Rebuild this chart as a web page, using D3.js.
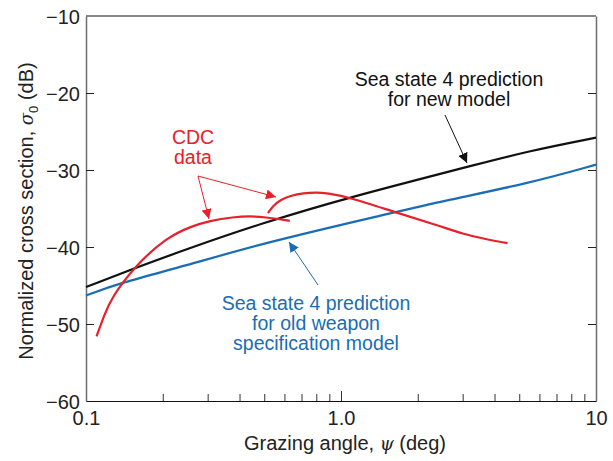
<!DOCTYPE html>
<html>
<head>
<meta charset="utf-8">
<script src="https://cdn.jsdelivr.net/npm/d3@7"></script>
<style>
  body { margin: 0; background: #fff; }
  svg text { font-family: "Liberation Sans", Arial, Helvetica, sans-serif; }
</style>
</head>
<body>
<svg id="chart"></svg>
<script>
// grazing angle (deg) / sigma0 (dB)
var newModel = [
  [0.1, -45.2], [0.154, -42.8], [0.242, -40.4], [0.5, -36.8], [1.08, -33.55],
  [2.45, -30.5], [3.12, -29.6], [5.5, -27.5], [10, -25.8]
];
var oldModel = [
  [0.1, -46.3], [0.135, -44.7], [0.242, -42.5], [0.5, -39.45], [1.6, -35.55],
  [2.45, -34.1], [5.5, -31.7], [10, -29.3]
];
var cdcLow = [
  [0.110, -51.6], [0.118, -48.8], [0.126, -46.6], [0.154, -42.6], [0.208, -38.7],
  [0.26, -37.3], [0.304, -36.6], [0.38, -36.1], [0.44, -36.0], [0.5, -36.1], [0.63, -36.6]
];
var cdcHigh = [
  [0.517, -35.6], [0.541, -34.7], [0.576, -33.9], [0.64, -33.3], [0.71, -33.0],
  [0.8, -32.9], [0.88, -33.0], [1.08, -33.55], [1.6, -35.4], [2.45, -37.3], [3.0, -38.3],
  [3.7, -39.0], [4.5, -39.5]
];
var yTicks = [-10, -20, -30, -40, -50, -60];
var xMajor = [0.1, 1, 10];
var xMinor = [0.2, 0.3, 0.4, 0.5, 0.6, 0.7, 0.8, 0.9, 2, 3, 4, 5, 6, 7, 8, 9];

var opts = {
    width: 613, height: 461,
    left: 86, right: 596, top: 16, bottom: 401,
    fontSize: '20px',
    noteSize: '19.5px',
    noteLine: 20,
    red: '#e8202a', blue: '#1a6db4', black: '#111111', text: '#222222', frame: '#6e6e6e'
};

var svg = d3.select('#chart')
    .attr('width', opts.width)
    .attr('height', opts.height);

var x = d3.scaleLog().domain([0.1, 10]).range([opts.left, opts.right]);
var y = d3.scaleLinear().domain([-60, -10]).range([opts.bottom, opts.top]);

var defs = svg.append('defs');
function arrowHead(id, color) {
    defs.append('marker')
        .attr('id', id)
        .attr('viewBox', '0 0 10 10')
        .attr('refX', 10).attr('refY', 5)
        .attr('markerWidth', 10).attr('markerHeight', 10)
        .attr('markerUnits', 'userSpaceOnUse')
        .attr('orient', 'auto')
        .append('path')
        .attr('d', 'M0,0 L10,5 L0,10 Z')
        .style('fill', color);
}
arrowHead('arr-red', opts.red);
arrowHead('arr-black', opts.black);
arrowHead('arr-blue', opts.blue);

// top edge of frame
svg.append('line').attr('x1', opts.left).attr('x2', opts.right).attr('y1', opts.top).attr('y2', opts.top)
    .style('stroke', opts.black).style('stroke-width', 1.2);

// y axis (left with labels, right ticks only)
var yAxis = d3.axisLeft(y).tickValues(yTicks).tickSizeInner(-8).tickSizeOuter(0).tickPadding(6)
    .tickFormat(function(d){ return d3.format('d')(d).replace('-', '\u2212'); });
var gy = svg.append('g').attr('transform', 'translate(' + opts.left + ',0)').call(yAxis);
gy.selectAll('.tick line').filter(function(d){ return d === -10 || d === -60; }).remove();
gy.select('.domain').style('stroke', opts.frame).style('stroke-width', 1.5);
gy.selectAll('.tick line').style('stroke', '#222');
gy.selectAll('text').style('font-size', opts.fontSize).style('fill', opts.text).attr('dy', '0.36em');

var gyr = svg.append('g').attr('transform', 'translate(' + opts.right + ',0)')
    .call(d3.axisRight(y).tickValues(yTicks.slice(1, 5)).tickSizeInner(-8).tickSizeOuter(0).tickFormat(''));
gyr.select('.domain').style('stroke', opts.frame).style('stroke-width', 1.5);
gyr.selectAll('.tick line').style('stroke', '#222');

// x axis: minor and major ticks
var gxMinor = svg.append('g').attr('transform', 'translate(0,' + opts.bottom + ')')
    .call(d3.axisBottom(x).tickValues(xMinor).tickSizeInner(-7).tickSizeOuter(0).tickFormat(''));
gxMinor.select('.domain').style('stroke', opts.black).style('stroke-width', 1.2);
gxMinor.selectAll('.tick line').style('stroke', '#333');

var gxMajor = svg.append('g').attr('transform', 'translate(0,' + opts.bottom + ')')
    .call(d3.axisBottom(x).tickValues(xMajor).tickSizeInner(-10).tickSizeOuter(0).tickPadding(10)
        .tickFormat(function(d){ return d === 0.1 ? '0.1' : d === 1 ? '1.0' : '10'; }));
gxMajor.select('.domain').remove();
gxMajor.selectAll('.tick line').filter(function(d){ return d !== 1; }).remove();
gxMajor.selectAll('.tick line').style('stroke', '#333');
gxMajor.selectAll('text').style('font-size', opts.fontSize).style('fill', opts.text).attr('dy', '0.71em');

// axis titles
var xt = svg.append('text')
    .attr('x', 345)
    .attr('y', 450)
    .style('text-anchor', 'middle').style('font-size', opts.fontSize).style('fill', opts.text);
xt.append('tspan').text('Grazing angle, ');
xt.append('tspan').style('font-family', '"DejaVu Serif", serif').style('font-style', 'italic')
    .style('font-size', '18px').style('fill', opts.text).text('\u03c8');
xt.append('tspan').text(' (deg)');

var yt = svg.append('text')
    .attr('transform', 'translate(33,211)rotate(-90)')
    .style('text-anchor', 'middle').style('font-size', opts.fontSize).style('fill', opts.text);
yt.append('tspan').text('Normalized cross section, ');
yt.append('tspan').style('font-family', '"DejaVu Serif", serif').style('font-style', 'italic')
    .style('font-size', '18px').style('fill', opts.text).text('\u03c3');
yt.append('tspan').attr('dy', 5).style('font-size', '13px').text('0');
yt.append('tspan').attr('dy', -5).text(' (dB)');

// curves
var line = d3.line()
    .x(function(d){ return x(d[0]); })
    .y(function(d){ return y(d[1]); })
    .curve(d3.curveBasis);

var plotG = svg.append('g');
[[newModel, opts.black], [oldModel, opts.blue], [cdcLow, opts.red], [cdcHigh, opts.red]].forEach(function(s){
    plotG.append('path')
        .datum(s[0])
        .attr('d', line)
        .style('fill', 'none')
        .style('stroke', s[1])
        .style('stroke-width', 2.2);
});

// annotations
function label(lines, cx, y0, color) {
    var t = svg.append('text').style('text-anchor', 'middle').style('font-size', opts.noteSize).style('fill', color);
    lines.forEach(function(l, i){
        t.append('tspan').attr('x', cx).attr('y', y0 + i * opts.noteLine).text(l);
    });
}
function arrow(x1, y1, x2, y2, color, id) {
    svg.append('line')
        .attr('x1', x1).attr('y1', y1).attr('x2', x2).attr('y2', y2)
        .style('stroke', color).style('stroke-width', 1)
        .attr('marker-end', 'url(#' + id + ')');
}

label(['CDC', 'data'], 193, 144, opts.red);
arrow(198, 176, 209, 219, opts.red, 'arr-red');
arrow(198, 176, 276, 197, opts.red, 'arr-red');

label(['Sea state 4 prediction', 'for new model'], 449, 86, opts.black);
arrow(445, 115, 467, 163, opts.black, 'arr-black');

label(['Sea state 4 prediction', 'for old weapon', 'specification model'], 316, 310, opts.blue);
arrow(318, 285, 289, 242, opts.blue, 'arr-blue');
</script>
</body>
</html>
